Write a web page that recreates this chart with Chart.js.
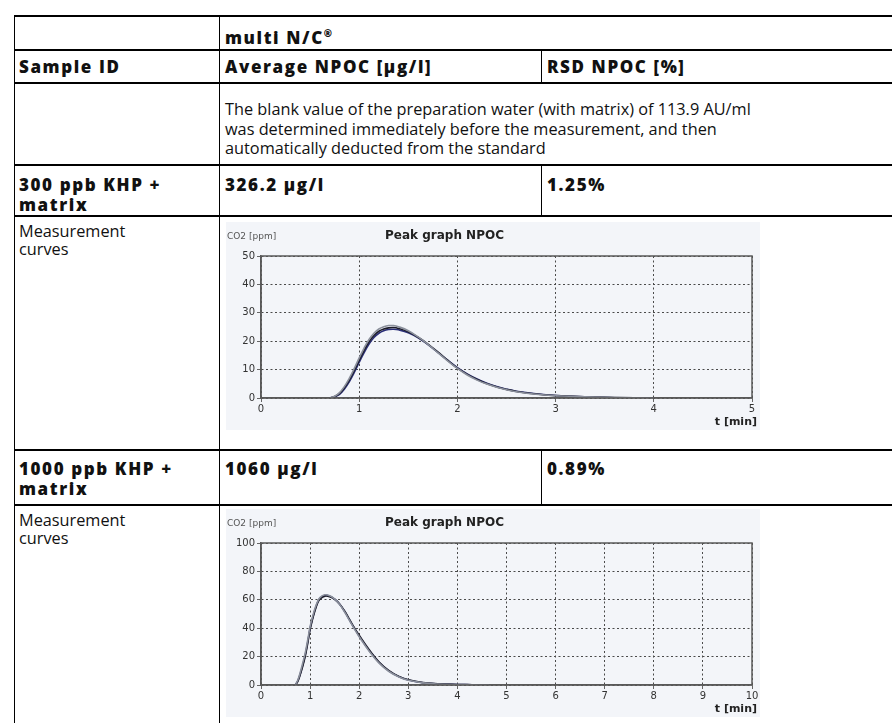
<!DOCTYPE html>
<html>
<head>
<meta charset="utf-8">
<script src="https://cdn.jsdelivr.net/npm/chart.js@4.4.1/dist/chart.umd.min.js"></script>
<style>
  html, body { margin: 0; padding: 0; background: #fff; }
  body { width: 892px; height: 723px; overflow: hidden; position: relative; font-family: "Open Sans", sans-serif; color: #111; }
  .h { position: absolute; background: #000; height: 2px; left: 14px; right: 0; }
  .v { position: absolute; background: #000; width: 1.5px; }
  .t { position: absolute; white-space: nowrap; }
  .b { font-weight: 800; font-size: 17px; letter-spacing: 1.6px; line-height: 20px; }
  .r { font-size: 16.3px; line-height: 19.5px; }
  .chart { position: absolute; left: 226px; width: 534px; height: 208px; background: #f3f5f9; }
</style>
</head>
<body>
<!-- table grid -->
<div class="h" style="top:15px"></div>
<div class="h" style="top:49px"></div>
<div class="h" style="top:82px"></div>
<div class="h" style="top:164px"></div>
<div class="h" style="top:215px"></div>
<div class="h" style="top:449px"></div>
<div class="h" style="top:504px"></div>
<div class="v" style="left:13.5px;top:15px;height:708px"></div>
<div class="v" style="left:218.5px;top:15px;height:708px"></div>
<div class="v" style="left:540.5px;top:49px;height:34px;width:1px"></div>
<div class="v" style="left:540.5px;top:164px;height:52px;width:1px"></div>
<div class="v" style="left:540.5px;top:449px;height:56px;width:1px"></div>

<div class="t b" style="left:225px;top:23px">multi N/C<sup style="font-size:10px">®</sup></div>
<div class="t b" style="left:19px;top:57px">Sample ID</div>
<div class="t b" style="left:225px;top:57px">Average NPOC [µg/l]</div>
<div class="t b" style="left:547px;top:57px">RSD NPOC [%]</div>
<div class="t r" style="left:225px;top:100px">The blank value of the preparation water (with matrix) of 113.9 AU/ml<br>was determined immediately before the measurement, and then<br>automatically deducted from the standard</div>
<div class="t b" style="left:19px;top:175px">300 ppb KHP +<br>matrix</div>
<div class="t b" style="left:225px;top:175px">326.2 µg/l</div>
<div class="t b" style="left:547px;top:175px">1.25%</div>
<div class="t r" style="left:19px;top:222px;line-height:18px">Measurement<br>curves</div>
<div class="t b" style="left:19px;top:459px">1000 ppb KHP +<br>matrix</div>
<div class="t b" style="left:225px;top:459px">1060 µg/l</div>
<div class="t b" style="left:547px;top:459px">0.89%</div>
<div class="t r" style="left:19px;top:511px;line-height:18px">Measurement<br>curves</div>

<div class="chart" style="top:222px"><canvas id="peak300" width="534" height="208"></canvas></div>
<div class="chart" style="top:509px"><canvas id="peak1000" width="534" height="208"></canvas></div>

<script>
// 300 ppb KHP + matrix, three replicate peaks
const time300 = [0.7, 0.75, 0.8, 0.85, 0.9, 0.95, 1.0, 1.05, 1.1, 1.15, 1.2, 1.25, 1.3, 1.35, 1.4, 1.5, 1.6, 1.7, 1.8, 1.9, 2.0, 2.1, 2.2, 2.3, 2.4, 2.5, 2.6, 2.8, 3.0, 3.3, 3.6, 4.0]
const rep300a = [0, 0.4, 1.3, 3.2, 5.8, 9.0, 12.6, 16.0, 19.0, 21.3, 22.8, 23.7, 24.1, 24.2, 24.0, 23.0, 21.2, 18.8, 16.1, 13.3, 10.7, 8.5, 6.7, 5.2, 4.0, 3.1, 2.4, 1.5, 0.9, 0.4, 0.1, 0]
const rep300b = [0, 0.6, 1.9, 4.1, 7.0, 10.4, 14.1, 17.6, 20.6, 22.8, 24.3, 25.1, 25.5, 25.5, 25.1, 23.7, 21.5, 18.9, 16.0, 13.1, 10.4, 8.1, 6.3, 4.9, 3.8, 2.9, 2.2, 1.3, 0.8, 0.4, 0.2, 0]
const rep300c = [0, 0.5, 1.6, 3.7, 6.4, 9.7, 13.3, 16.8, 19.8, 22.0, 23.5, 24.3, 24.7, 24.8, 24.5, 23.3, 21.4, 19.0, 16.2, 13.3, 10.5, 8.3, 6.5, 5.0, 3.9, 3.0, 2.3, 1.4, 0.85, 0.45, 0.2, 0]

// 1000 ppb KHP + matrix, three replicate peaks
const time1000 = [0.7, 0.75, 0.8, 0.85, 0.9, 0.95, 1.0, 1.05, 1.1, 1.15, 1.2, 1.3, 1.4, 1.5, 1.6, 1.7, 1.8, 1.9, 2.0, 2.2, 2.4, 2.6, 2.8, 3.0, 3.3, 3.6, 4.0, 4.3, 4.65]
const rep1000a = [0, 3, 8, 14, 21, 30, 40, 47, 53, 58, 61, 63.2, 62.5, 60.5, 57, 52, 46, 40, 34.5, 24.5, 16, 10, 6, 3.5, 1.6, 0.8, 0.4, 0.2, 0]
const rep1000b = [0, 3.5, 9, 15.5, 22.5, 31.5, 41, 48, 54, 58.5, 61.5, 63.5, 62.8, 60.5, 56.8, 51.6, 45.6, 39.6, 34, 24, 15.6, 9.7, 5.8, 3.3, 1.5, 0.7, 0.3, 0.1, 0]
const rep1000c = [0, 2.6, 7.4, 13.2, 20, 29, 39, 46.2, 52.4, 57.4, 60.5, 62.6, 62.2, 60.4, 57.1, 52.3, 46.4, 40.4, 35, 25, 16.4, 10.3, 6.2, 3.7, 1.7, 0.9, 0.4, 0.2, 0]

const series = (t, v) => t.map((x, i) => ({ x: x, y: v[i] }))

const frame = {
    id: 'frame',
    afterDraw(chart) {
        const ctx = chart.ctx
        const a = chart.chartArea
        ctx.save()
        ctx.strokeStyle = '#5a5a5a'
        ctx.lineWidth = 1.5
        ctx.strokeRect(a.left, a.top, a.right - a.left, a.bottom - a.top)
        ctx.fillStyle = '#222'
        ctx.font = 'bold 12px "DejaVu Sans"'
        ctx.textBaseline = 'middle'
        ctx.fillText('Peak graph NPOC', 159, 14)
        ctx.fillStyle = '#555'
        ctx.font = '9px "DejaVu Sans"'
        ctx.fillText('CO2 [ppm]', 1, 15)
        ctx.fillStyle = '#222'
        ctx.font = 'bold 11px "DejaVu Sans"'
        ctx.textAlign = 'right'
        ctx.fillText('t [min]', a.right + 5, a.bottom + 24)
        ctx.restore()
    }
}

const makeChart = (id, time, reps, xmax, ymax, ystep) => {
    const colors = ['#8b909c', '#1c1c2a', '#2b2f78']
    new Chart(document.getElementById(id), {
        type: 'line',
        data: {
            datasets: reps.map((r, i) => ({
                data: series(time, r),
                borderColor: colors[i],
                borderWidth: 1.6,
                pointRadius: 0,
                tension: 0.4,
                fill: false
            }))
        },
        options: {
            responsive: false,
            animation: false,
            events: [],
            layout: { padding: { top: 34, right: 8, left: 0, bottom: 0 } },
            plugins: { legend: { display: false }, title: { display: false }, tooltip: { enabled: false } },
            scales: {
                x: {
                    type: 'linear', min: 0, max: xmax,
                    afterFit: s => { s.height = 32 },
                    ticks: { stepSize: 1, color: '#333', font: { family: 'DejaVu Sans', size: 10 }, padding: 1, maxRotation: 0 },
                    grid: { color: '#4a4a4a', lineWidth: 1, tickLength: 4, tickColor: '#666' },
                    border: { display: true, color: '#5a5a5a', width: 1.5, dash: [2, 2.5] }
                },
                y: {
                    min: 0, max: ymax,
                    afterFit: s => { s.width = 35 },
                    ticks: { stepSize: ystep, color: '#333', font: { family: 'DejaVu Sans', size: 10 }, padding: 2 },
                    grid: { color: '#4a4a4a', lineWidth: 1, tickLength: 4, tickColor: '#666' },
                    border: { display: true, color: '#5a5a5a', width: 1.5, dash: [2, 2.5] }
                }
            }
        },
        plugins: [frame]
    })
}

makeChart('peak300', time300, [rep300b, rep300c, rep300a], 5, 50, 10)
makeChart('peak1000', time1000, [rep1000b, rep1000c, rep1000a], 10, 100, 20)
</script>
</body>
</html>
